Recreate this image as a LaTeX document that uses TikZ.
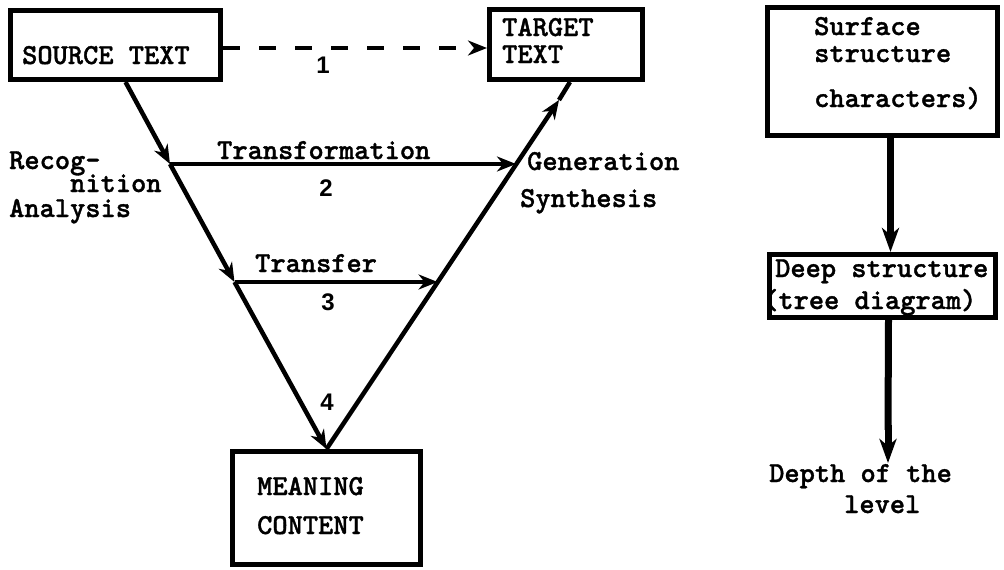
\documentclass[tikz,border=0pt]{standalone}
\usepackage{fontspec}
\usetikzlibrary{arrows.meta,calc}
\newfontfamily\digitfont{Liberation Sans}
\newfontfamily\typefont[FakeBold=1.2]{lmmonolt10-bold.otf}
\begin{document}
\begin{tikzpicture}[x=1pt,y=-1pt,
  box/.style={draw,line width=5pt,inner sep=0pt},
  txt/.style={inner sep=0pt,anchor=base west,font=\typefont\fontsize{29}{32}\selectfont},
  num/.style={inner sep=0pt,font=\digitfont\bfseries\fontsize{24}{26}\selectfont},
  flow/.style={line width=4.5pt},
  tip/.style={-{Stealth[length=19pt,width=15pt,inset=6pt]}},
  vtip/.style={line width=7pt,-{Stealth[length=24pt,width=17pt,inset=7pt]}},
  dashline/.style={line width=4.5pt,dash pattern=on 17pt off 19pt,-{Stealth[length=19pt,width=15pt,inset=6pt]}}
]
\useasboundingbox (0,0) rectangle (1004,570);

% boxes of the translation triangle
\node[box,minimum width=210pt,minimum height=69pt] (src) at (115.5,45) {};
\node[box,minimum width=153pt,minimum height=70pt] (tgt) at (566,44.5) {};
\node[box,minimum width=188pt,minimum height=113pt] (mean) at (326.5,508) {};

% boxes of the structure levels
\node[box,minimum width=230pt,minimum height=128pt] (surf) at (882.5,71.5) {};
\node[box,minimum width=226pt,minimum height=63pt] (deep) at (882.5,286) {};

% box texts
\node[txt] (srct) at (22,64) {SOURCE TEXT};
\node[txt] (tgt1) at (502,36) {TARGET};
\node[txt] (tgt2) at (502,63) {TEXT};
\node[txt] (mean1) at (257,495) {MEANING};
\node[txt] (mean2) at (257,534) {CONTENT};
\node[txt] (surf1) at (814,35) {Surface};
\node[txt] (surf2) at (814,62) {structure};
\node[txt] (surf3) at (814,107) {characters)};
\node[txt] (deep1) at (775,277) {Deep structure};
\node[txt] (deep2) at (763,309) {(tree diagram)};

% side labels
\node[txt] (rec1) at (9,169) {Recog-};
\node[txt] (rec2) at (70,192) {nition};
\node[txt] (rec3) at (9,217) {Analysis};
\node[txt] (gen1) at (527,170) {Generation};
\node[txt] (gen2) at (520,207) {Synthesis};
\node[txt] (trf1) at (217,159) {Transformation};
\node[txt] (trf2) at (255,272) {Transfer};
\node[txt] (dep1) at (769,482) {Depth of the};
\node[txt] (dep2) at (844,513) {level};

% route numbers
\node[num] (n1) at (323,65) {1};
\node[num] (n2) at (326,188) {2};
\node[num] (n3) at (328,302) {3};
\node[num] (n4) at (327,402) {4};

% junctions on the two legs
\coordinate (j1) at (170,164);
\coordinate (j2) at (234.5,282);
\coordinate (k1) at (516,164);
\coordinate (k2) at (437.6,282);
\coordinate (k0) at (559,100);
\coordinate (dtip) at (888,463);

% direct route
\draw[dashline] ([yshift=-3pt]src.east) -- ([yshift=-3.5pt]tgt.west);

% analysis leg
\draw[flow,tip] ([xshift=10pt]src.south) -- (j1);
\draw[flow,tip] (j1) -- (j2);
\draw[flow,tip] (j2) -- (mean.north);

% synthesis leg
\draw[flow,tip] (mean.north) -- (k0);
\draw[flow] (k0) -- ([xshift=4pt]tgt.south);

% horizontal routes
\draw[flow,tip] (j1) -- (k1);
\draw[flow,tip] (j2) -- (k2);

% levels of depth
\draw[vtip] ([xshift=8pt]surf.south) -- ([xshift=8pt]deep.north);
\draw[line width=7pt] ([xshift=6pt]deep.south) -- (888,430);
\draw[vtip] (888,425) -- (dtip);
\end{tikzpicture}
\end{document}
